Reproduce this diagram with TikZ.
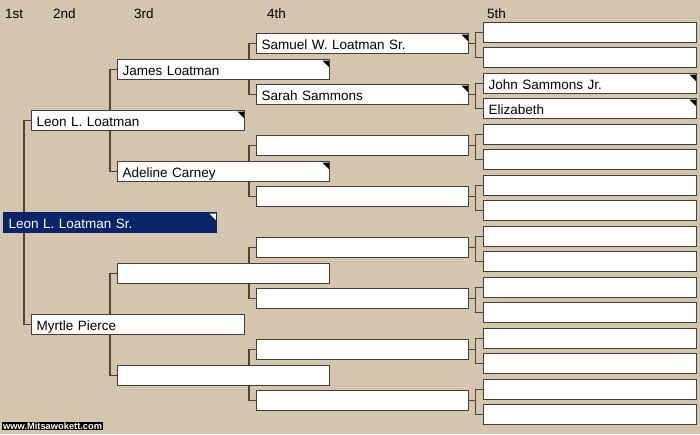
\documentclass[tikz,border=0pt]{standalone}
\usepackage{fontspec}
\setmainfont{Liberation Sans}
\definecolor{bgtan}{HTML}{D4C5AE}
\definecolor{boxline}{HTML}{473D32}
\definecolor{connline}{HTML}{54432F}
\definecolor{rootblue}{HTML}{0A246A}
\pgfdeclarelayer{bglayer}
\pgfdeclarelayer{lines}
\pgfsetlayers{bglayer,lines,main}
\begin{document}
\begin{tikzpicture}[x=1pt,y=-1pt,
  box/.style={draw=boxline, line width=1.3pt, fill=white, anchor=north west,
    inner xsep=5pt, inner ysep=0pt, text width=#1, align=left,
    text height=15.5pt, text depth=4.5pt, font=\fontsize{13.5}{16}\selectfont},
  box/.default=202pt,
  rootbox/.style={box=203pt, draw=rootblue, fill=rootblue, text=white},
  conn/.style={draw=connline, line width=1.1pt},
  hdr/.style={anchor=base west, inner sep=0pt, font=\fontsize{13.5}{16}\selectfont},
  flagtri/.style={fill=black}]
\begin{pgfonlayer}{bglayer}
  \fill[bgtan] (0,0) rectangle (700,434);
\end{pgfonlayer}
\useasboundingbox (0,0) rectangle (700,434);

% headers
\node[hdr] (h1) at (5,18) {1st};
\node[hdr] (h2) at (53,18) {2nd};
\node[hdr] (h3) at (134,18) {3rd};
\node[hdr] (h4) at (267,18) {4th};
\node[hdr] (h5) at (487,18) {5th};

% 1st
\node[rootbox] (r) at (3,212) {Leon L. Loatman Sr.};
% 2nd
\node[box=203pt] (b1) at (31,110) {Leon L. Loatman};
\node[box=203pt] (b2) at (31,314) {Myrtle Pierce};
% 3rd
\node[box] (c1) at (117,59) {James Loatman};
\node[box] (c2) at (117,161) {Adeline Carney};
\node[box] (c3) at (117,263) {};
\node[box] (c4) at (117,365) {};
% 4th
\node[box] (d1) at (256,33) {Samuel W. Loatman Sr.};
\node[box] (d2) at (256,84) {Sarah Sammons};
\foreach \i in {3,...,8} {
  \node[box] (d\i) at (256,{33+51*(\i-1)}) {};
}
% 5th
\node[box=203pt] (e1) at (483,22) {};
\node[box=203pt] (e2) at (483,47) {};
\node[box=203pt] (e3) at (483,73) {John Sammons Jr.};
\node[box=203pt] (e4) at (483,98) {Elizabeth};
\foreach \i in {5,...,16} {
  \pgfmathtruncatemacro{\ey}{round(22+25.47*(\i-1))}
  \node[box=203pt] (e\i) at (483,\ey) {};
}

% connectors
\begin{pgfonlayer}{lines}
  \draw[conn] (b1.west) -- ++(-7,0) |- (b2.west);
  \draw[conn] (c1.west) -- ++(-7,0) |- (c2.west);
  \draw[conn] (c3.west) -- ++(-7,0) |- (c4.west);
  \foreach \a/\b in {d1/d2,d3/d4,d5/d6,d7/d8} {
    \draw[conn] (\a.west) -- ++(-7,0) |- (\b.west);
  }
  \foreach \i in {1,...,8} {
    \pgfmathtruncatemacro{\ea}{2*\i-1}
    \pgfmathtruncatemacro{\eb}{2*\i}
    \draw[conn] (e\ea.west) -- ++(-7.5,0) |- (e\eb.west);
    \draw[conn] (d\i.east) -- ([xshift=-7.5pt]d\i.east -| e\ea.west);
  }
\end{pgfonlayer}

% corner flags
\foreach \n in {b1,c1,c2,d1,d2,e3,e4} {
  \fill[flagtri] ([xshift=-1.5pt,yshift=-1.5pt]\n.north east) -- ++(-6.5pt,0pt) -- ++(6.5pt,-6.5pt) -- cycle;
}
\fill[white] ([xshift=-1.5pt,yshift=-1.5pt]r.north east) -- ++(-6.5pt,0pt) -- ++(6.5pt,-6.5pt) -- cycle;

% watermark
\node[anchor=north west, fill=black, text=white, inner xsep=1pt, inner ysep=0.6pt,
  font=\bfseries\fontsize{9.3}{10}\selectfont] (wm) at (2,422) {www.Mitsawokett.com};
\end{tikzpicture}
\end{document}
